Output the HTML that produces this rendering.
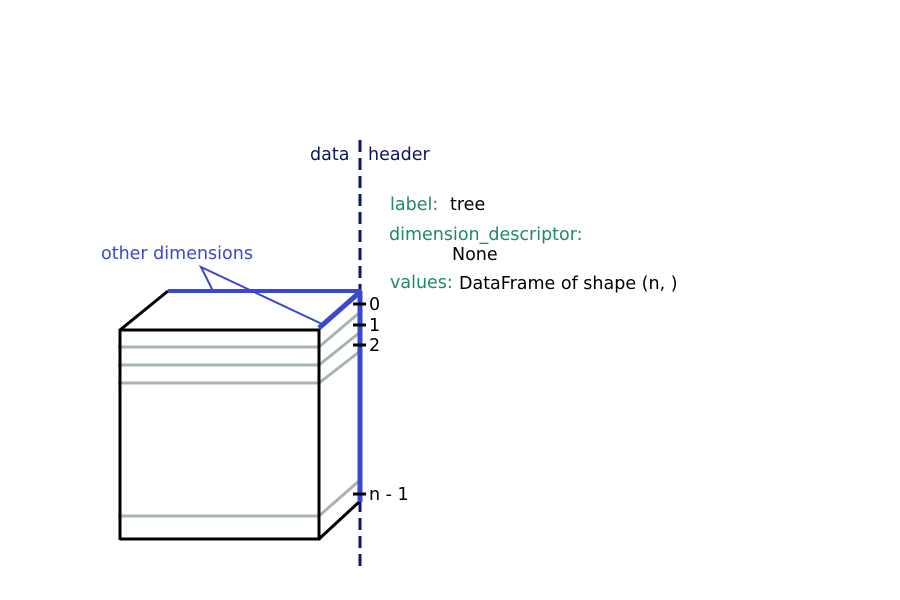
<!DOCTYPE html>
<html><head><style>body{margin:0;background:#fff}svg{display:block}</style></head><body>
<svg width="900" height="600" xmlns="http://www.w3.org/2000/svg" font-family="DejaVu Sans, sans-serif" font-size="17.5">
<rect width="900" height="600" fill="#fff"/>
<line x1="360" y1="140" x2="360" y2="568" stroke="#0d1560" stroke-width="3" stroke-dasharray="12,6"/>
<g stroke="#a8b5ae" stroke-width="3" fill="none">
<polyline points="118,347 319,347 359,313"/>
<polyline points="118,365 319,365 359,333"/>
<polyline points="118,383 319,383 359,352"/>
<polyline points="118,516 319,516 359,481"/>
</g>
<g stroke="#000" stroke-width="3" fill="none">
<polyline points="168,291 120,330 120,540"/>
<polyline points="120,330 319,330 319,539 120,539"/>
<line x1="319" y1="539" x2="359" y2="502"/>
</g>
<g stroke="#3a48d0" fill="none">
<line x1="168" y1="291" x2="361" y2="291" stroke-width="4"/>
<line x1="360" y1="291" x2="360" y2="502" stroke-width="5"/>
<line x1="360" y1="292" x2="319" y2="328" stroke-width="5"/>
<polyline points="213,291 201,267 322,324" stroke-width="2"/>
</g>
<g stroke="#000" stroke-width="3">
<line x1="353" y1="304" x2="366" y2="304"/>
<line x1="353" y1="325" x2="366" y2="325"/>
<line x1="353" y1="345" x2="366" y2="345"/>
<line x1="353" y1="494" x2="366" y2="494"/>
</g>
<g fill="#000">
<text x="369" y="310">0</text>
<text x="369" y="331">1</text>
<text x="369" y="351">2</text>
<text x="369" y="500">n - 1</text>
</g>
<text x="310" y="160" fill="#0d1560">data</text>
<text x="368" y="160" fill="#0d1560">header</text>
<text x="101" y="259" fill="#3a48d0">other dimensions</text>
<text x="390" y="210" fill="#1f8a68">label:</text>
<text x="450" y="210" fill="#000">tree</text>
<text x="389" y="240" fill="#1f8a68">dimension_descriptor:</text>
<text x="452" y="260" fill="#000">None</text>
<text x="390" y="288" fill="#1f8a68">values:</text>
<text x="459" y="289" fill="#000">DataFrame of shape (n, )</text>
</svg>
</body></html>
